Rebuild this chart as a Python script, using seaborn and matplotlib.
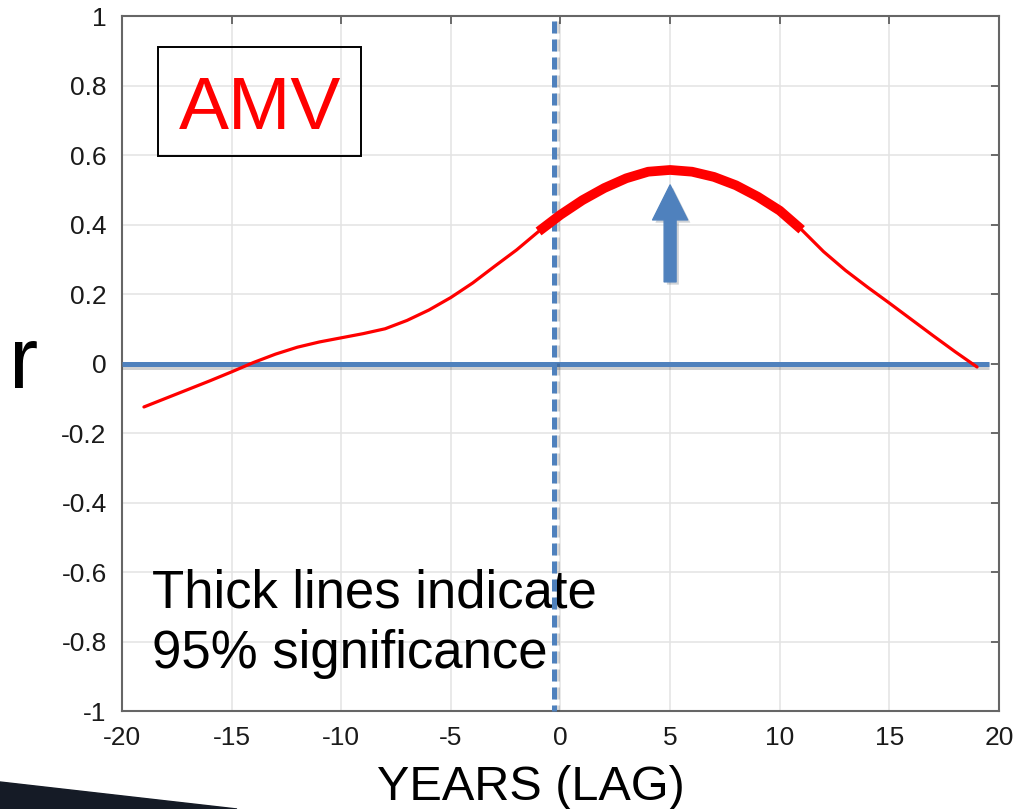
import matplotlib.pyplot as plt
import matplotlib.patheffects as pe
from matplotlib.patches import Rectangle, Polygon
import pandas as pd
import seaborn as sns

# Correlacao defasada (lag em anos) entre o indice AMV e a serie analisada.
lags = list(range(-19, 20))
r_vals = [-0.125, -0.100, -0.075, -0.050, -0.024, 0.003, 0.027, 0.047, 0.062, 0.074,
          0.086, 0.100, 0.124, 0.154, 0.190, 0.232, 0.280, 0.327, 0.380, 0.428,
          0.470, 0.505, 0.533, 0.552, 0.557, 0.552, 0.537, 0.513, 0.480, 0.440,
          0.385, 0.322, 0.268, 0.220, 0.174, 0.127, 0.080, 0.034, -0.010]

# Trecho significativo a 95% (linha grossa).
sig_inicio, sig_fim = -1, 11

x_ticks = [-20, -15, -10, -5, 0, 5, 10, 15, 20]
y_ticks = [-1, -0.8, -0.6, -0.4, -0.2, 0, 0.2, 0.4, 0.6, 0.8, 1]
y_tick_labels = ['-1', '-0.8', '-0.6', '-0.4', '-0.2', '0', '0.2', '0.4', '0.6', '0.8', '1']

df = pd.DataFrame({'lag': lags, 'r': r_vals})
df_sig = df[(df['lag'] >= sig_inicio) & (df['lag'] <= sig_fim)]

sns.set_theme(style='white')
plt.rcParams['font.family'] = ['Liberation Sans', 'DejaVu Sans']

AZUL = '#4f81bd'
VERMELHO = '#ff0000'

fig = plt.figure(figsize=(10.15, 8.09), dpi=100)
ax = fig.add_axes([0.1202, 0.1211, 0.8640, 0.8591])

# Linhas de referencia (zero e lag 0), com leve sombra.
sombra = [pe.SimpleLineShadow(offset=(0, -2.5), alpha=0.18, shadow_color='black'), pe.Normal()]
ax.plot([-20, 19.55], [0, 0], color=AZUL, lw=3.6, solid_capstyle='butt', zorder=3, path_effects=sombra)
ax.plot([-0.3, -0.3], [0.987, -1.0], color=AZUL, lw=3.6, dashes=(2.4, 1.2), zorder=7,
        path_effects=[pe.SimpleLineShadow(offset=(2, 0), alpha=0.15, shadow_color='black'), pe.Normal()],
        clip_on=False)

# Curva de correlacao.
sns.lineplot(data=df, x='lag', y='r', color=VERMELHO, lw=2.3, ax=ax, zorder=8)
sns.lineplot(data=df_sig, x='lag', y='r', color=VERMELHO, lw=7, ax=ax, zorder=8,
             solid_capstyle='butt')

# Seta indicando o pico.
ax.annotate('', xy=(5, 0.514), xytext=(5, 0.235),
            arrowprops=dict(arrowstyle='simple,head_width=1.26,head_length=1.26,tail_width=0.43',
                            mutation_scale=20, color=AZUL, shrinkA=0, shrinkB=0,
                            path_effects=[pe.SimplePatchShadow(offset=(2, -2), alpha=0.2), pe.Normal()]),
            zorder=5)

# Caixa "AMV".
ax.add_patch(Rectangle((-18.36, 0.597), 9.27, 0.314, fill=False, edgecolor='black', lw=1.4, zorder=5))
ax.text(-13.7, 0.675, 'AMV', color=VERMELHO, fontsize=54, ha='center', va='baseline', zorder=6)

ax.text(-18.63, -0.7007, 'Thick lines indicate', fontsize=38, color='black', ha='left', va='baseline', zorder=6)
ax.text(-18.63, -0.876, '95% significance', fontsize=38, color='black', ha='left', va='baseline', zorder=6)

ax.set_xlim(-20, 20)
ax.set_ylim(-1, 1)
ax.set_xticks(x_ticks)
ax.set_xticklabels([str(t) for t in x_ticks])
ax.set_yticks(y_ticks)
ax.set_yticklabels(y_tick_labels)
ax.grid(True, color='#e3e3e3', lw=1.1)
ax.tick_params(direction='in', length=6, width=1.2, color='#555555', labelsize=19,
               labelcolor='#1a1a1a', top=True, right=True, pad=11)
for s in ax.spines.values():
    s.set_visible(True)
    s.set_color('#666666')
    s.set_linewidth(1.5)

ax.set_xlabel('YEARS (LAG)', fontsize=35, color='black')
ax.xaxis.set_label_coords(0.4664, -0.128)
ax.xaxis.label.set_va('baseline')
ax.set_ylabel('r', fontsize=63, color='black', rotation=0)
ax.yaxis.set_label_coords(-0.1117, 0.4647)
ax.yaxis.label.set_va('baseline')
ax.yaxis.label.set_ha('center')

# Faixa escura decorativa no canto inferior esquerdo (slide).
fig.patches.append(Polygon([(0, 0.0334), (0.2335, 0), (0, 0)], closed=True,
                           transform=fig.transFigure, color='#151b26', zorder=0))

plt.savefig('out.png', dpi=100)
